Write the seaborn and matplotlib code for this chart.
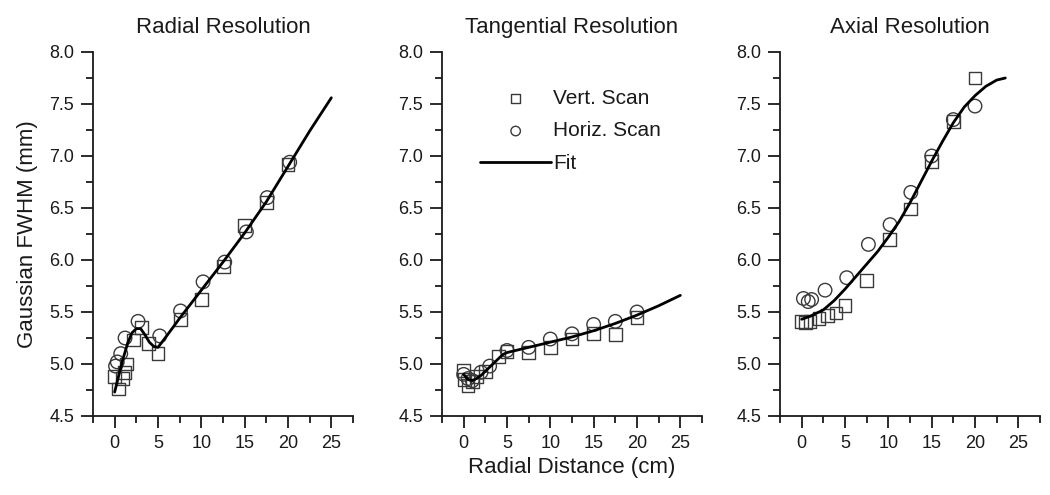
import matplotlib
matplotlib.use("Agg")
import matplotlib.pyplot as plt
from matplotlib.ticker import MultipleLocator, FormatStrFormatter
import seaborn as sns

# --- data (cm, mm) ---
titles = ['Radial Resolution', 'Tangential Resolution', 'Axial Resolution']

rad_vert_x = [0.0, 0.4, 0.9, 1.1, 1.4, 2.2, 3.1, 3.9, 5.0, 7.6, 10.0, 12.6, 15.0, 17.5, 20.0]
rad_vert_y = [4.88, 4.76, 4.86, 4.92, 5.00, 5.23, 5.35, 5.20, 5.10, 5.43, 5.62, 5.94, 6.33, 6.55, 6.92]
rad_horiz_x = [0.1, 0.3, 0.7, 1.2, 2.7, 5.2, 7.6, 10.2, 12.7, 15.2, 17.6, 20.2]
rad_horiz_y = [4.98, 5.02, 5.10, 5.25, 5.41, 5.27, 5.51, 5.79, 5.98, 6.27, 6.60, 6.94]
rad_fit_x = [0, 0.5, 1, 1.5, 2, 2.5, 3, 3.5, 4, 4.5, 5, 6, 7.5, 10, 12.5, 15, 17.5, 20, 22.5, 25]
rad_fit_y = [4.73, 4.90, 5.06, 5.20, 5.30, 5.34, 5.34, 5.28, 5.21, 5.17, 5.16, 5.27, 5.44,
             5.71, 5.98, 6.26, 6.56, 6.90, 7.24, 7.56]

tan_vert_x = [0.0, 0.05, 0.5, 1.0, 1.5, 2.5, 4.0, 5.0, 7.5, 10.0, 12.5, 15.0, 17.5, 20.0]
tan_vert_y = [4.94, 4.85, 4.79, 4.83, 4.88, 4.93, 5.07, 5.12, 5.11, 5.16, 5.24, 5.29, 5.28, 5.45]
tan_horiz_x = [0.0, 0.5, 1.0, 2.0, 3.0, 5.0, 7.5, 10.0, 12.5, 15.0, 17.5, 20.0]
tan_horiz_y = [4.90, 4.86, 4.84, 4.92, 4.98, 5.13, 5.16, 5.24, 5.29, 5.38, 5.41, 5.50]
tan_fit_x = [0, 0.5, 1, 1.5, 2, 2.5, 3, 3.5, 4, 4.5, 5, 6, 7.5, 10, 12.5, 15, 17.5, 20, 22.5, 25]
tan_fit_y = [4.90, 4.85, 4.84, 4.86, 4.89, 4.93, 4.97, 5.01, 5.05, 5.09, 5.11, 5.13, 5.16,
             5.21, 5.26, 5.32, 5.39, 5.47, 5.56, 5.66]

ax_vert_x = [0.0, 0.4, 0.96, 2.0, 2.95, 3.96, 5.0, 7.5, 10.1, 12.6, 15.0, 17.5, 20.0]
ax_vert_y = [5.41, 5.40, 5.41, 5.44, 5.47, 5.49, 5.56, 5.80, 6.20, 6.49, 6.95, 7.33, 7.75]
ax_horiz_x = [0.2, 0.76, 1.15, 2.7, 5.2, 7.7, 10.2, 12.6, 15.0, 17.5, 20.0]
ax_horiz_y = [5.63, 5.60, 5.62, 5.71, 5.83, 6.15, 6.34, 6.65, 7.00, 7.35, 7.48]
ax_fit_x = [0, 1, 2.5, 3.75, 5, 6.25, 7.5, 8.75, 10, 11.25, 12.5, 13.75, 15, 16.25,
            17.5, 18.75, 20, 21.25, 22.5, 23.5]
ax_fit_y = [5.43, 5.46, 5.52, 5.61, 5.72, 5.84, 5.96, 6.08, 6.22, 6.37, 6.55, 6.75, 6.95,
            7.14, 7.32, 7.47, 7.58, 7.67, 7.73, 7.75]

panels = [
    (rad_vert_x, rad_vert_y, rad_horiz_x, rad_horiz_y, rad_fit_x, rad_fit_y),
    (tan_vert_x, tan_vert_y, tan_horiz_x, tan_horiz_y, tan_fit_x, tan_fit_y),
    (ax_vert_x, ax_vert_y, ax_horiz_x, ax_horiz_y, ax_fit_x, ax_fit_y),
]

sns.set_style('ticks')
plt.rcParams['font.family'] = ['Liberation Sans', 'DejaVu Sans']
plt.rcParams['axes.linewidth'] = 1.3
text_col = '#1a1a1a'
mark_col = '#3a3a3a'

fig = plt.figure(figsize=(10.5, 4.95), dpi=100)
lefts = [93, 442, 780]
axes = []
for i, (vx, vy, hx, hy, fx, fy) in enumerate(panels):
    ax = fig.add_axes([lefts[i] / 1050, 79 / 495, 260 / 1050, 364 / 495])
    axes.append(ax)
    sns.scatterplot(x=vx, y=vy, ax=ax, marker='s', s=85, color=mark_col,
                    facecolor='none', edgecolor=mark_col, linewidth=1.0,
                    label='Vert. Scan', zorder=2)
    sns.scatterplot(x=hx, y=hy, ax=ax, marker='o', s=95, color=mark_col,
                    facecolor='none', edgecolor=mark_col, linewidth=1.0,
                    label='Horiz. Scan', zorder=2)
    sns.lineplot(x=fx, y=fy, ax=ax, color='black', linewidth=2.0,
                 estimator=None, label='Fit', zorder=3)

    ax.set_xlim(-2.5, 27.5)
    ax.set_ylim(4.5, 8.0)
    ax.xaxis.set_major_locator(MultipleLocator(5))
    ax.xaxis.set_minor_locator(MultipleLocator(2.5))
    ax.yaxis.set_major_locator(MultipleLocator(0.5))
    ax.yaxis.set_minor_locator(MultipleLocator(0.25))
    ax.yaxis.set_major_formatter(FormatStrFormatter('%.1f'))
    ax.tick_params(which='major', length=8.5, width=1.3, labelsize=13,
                   colors=text_col, pad=5)
    ax.tick_params(which='minor', length=5, width=1.3, colors=text_col)
    sns.despine(ax=ax)
    ax.spines['left'].set_color(text_col)
    ax.spines['bottom'].set_color(text_col)
    ax.set_title(titles[i], fontsize=16, color=text_col, pad=14)

    if i == 1:
        h, l = ax.get_legend_handles_labels()
        order = [l.index('Vert. Scan'), l.index('Horiz. Scan'), l.index('Fit')]
        ax.legend([h[k] for k in order], [l[k] for k in order],
                  loc='upper left', bbox_to_anchor=(0.075, 0.95), frameon=False,
                  fontsize=15, handlelength=3.4, handletextpad=0.1,
                  labelspacing=0.65, markerscale=0.7, labelcolor=text_col)
    else:
        ax.get_legend().remove()

axes[0].set_ylabel('Gaussian FWHM (mm)', fontsize=16, color=text_col, labelpad=8)
axes[1].set_xlabel('Radial Distance (cm)', fontsize=16, color=text_col, labelpad=4)

fig.savefig('out.png', dpi=100)
